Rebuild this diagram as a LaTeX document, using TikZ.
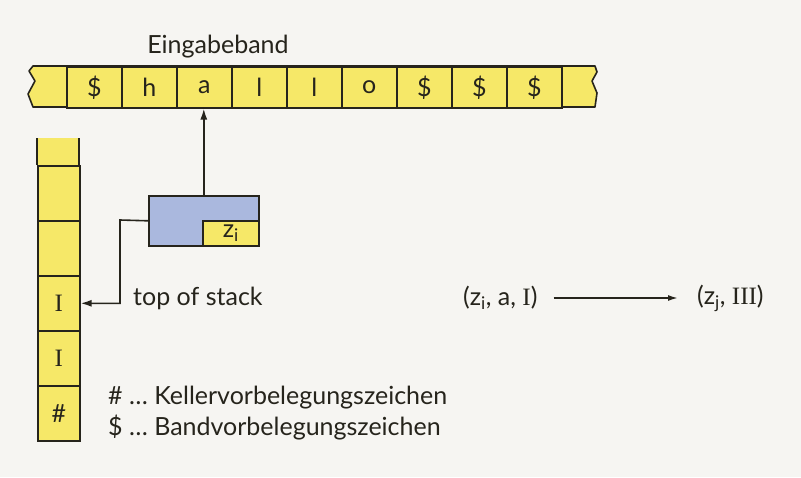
\documentclass[tikz,border=0pt]{standalone}
\usepackage{fontspec}
\setmainfont{Lato}
\newfontfamily\romanI{Liberation Serif}
\usetikzlibrary{arrows.meta}
\definecolor{tapeyellow}{RGB}{246,232,104}
\definecolor{headblue}{RGB}{170,184,222}
\definecolor{paper}{RGB}{246,245,242}
\definecolor{ink}{RGB}{38,36,28}
\newcommand\txtsize{\fontsize{25}{30}\selectfont}
\begin{document}
\begin{tikzpicture}[x=1pt,y=-1pt,
  every node/.style={font=\txtsize, text=ink},
  edge/.style={draw=ink, line width=1.6pt},
  cellbox/.style={edge, fill=tapeyellow, minimum width=55pt, minimum height=41pt,
    inner sep=0pt, anchor=north west},
  stackbox/.style={edge, fill=tapeyellow, minimum width=42pt, minimum height=55pt,
    inner sep=0pt, anchor=north west, font=\romanI\txtsize},
  plain/.style={inner sep=0pt, anchor=west},
  tip/.style={-{Latex[length=11pt,width=7pt]}},
]
% paper and picture frame
\fill[paper] (0,0) rectangle (801,477);
\useasboundingbox (0,0) rectangle (801,477);

% input tape with torn ends
\filldraw[edge, fill=tapeyellow, line join=round]
  (33,66) -- (595,66) -- (597,72) -- (592,81) -- (597,93) -- (595,107)
  -- (33,107) -- (28,94) -- (35,81) -- (29,71) -- cycle;
\foreach \sym [count=\k from 0] in {\$,h,a,l,l,o,\$,\$,\$}
  \node[cellbox] (t\k) at ({66+55*\k},66) {\sym};
\node[anchor=south, inner sep=0pt] (bandlabel) at (218,58) {Eingabeband};

% read head with state
\node[edge, fill=headblue, minimum width=110pt, minimum height=50pt,
  inner sep=0pt, anchor=north west] (head) at (148,195) {};
\node[edge, fill=tapeyellow, minimum width=56pt, minimum height=25pt,
  inner sep=0pt, anchor=south east] (state) at (head.south east) {z\textsubscript{i}};
\draw[edge, tip] (head.north) -- (head.north |- t2.south);

% pushdown stack, open at the top
\fill[tapeyellow] (37,138) rectangle (79,165);
\draw[edge] (37,138) -- (37,165) (79,138) -- (79,165);
\node[stackbox] (s0) at (37,165) {};
\node[stackbox] (s1) at (37,220) {};
\node[stackbox] (s2) at (37,275) {I};
\node[stackbox] (s3) at (37,330) {I};
\node[stackbox, font=\txtsize] (s4) at (37,385) {\#};

% head to top of stack
\draw[edge, tip] (head.west) -- (120,220) |- (s2.east);
\node[plain] (tos) at (133,298) {top of stack};

% transition
\node[plain] (lhs) at (463,298) {(z\textsubscript{i}, a, {\romanI I})};
\node[plain] (rhs) at (697,298) {(z\textsubscript{j}, {\romanI III})};
\draw[edge, -{Latex[length=10pt,width=6pt]}] (lhs.east) ++(16,0) -- ([xshift=-19pt]rhs.west);

% legend
\node[plain] (leg1) at (108,398) {\# \dots\ Kellervorbelegungszeichen};
\node[plain] (leg2) at (108,428) {\$ \dots\ Bandvorbelegungszeichen};
\end{tikzpicture}
\end{document}
